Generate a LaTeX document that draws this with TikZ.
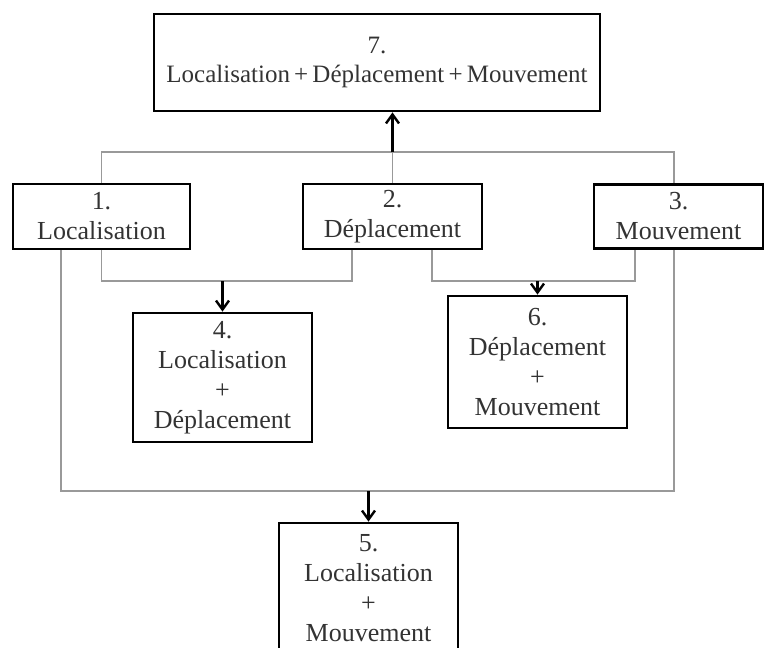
\documentclass[tikz,border=0pt]{standalone}
\usepackage{fontspec}
\setmainfont{Liberation Serif}
\usepackage{tikz}
\usetikzlibrary{arrows.meta,positioning,calc}

\begin{document}
\begin{tikzpicture}[x=0.5pt,y=-0.5pt,
    boite/.style={draw, line width=1.4pt, align=center, inner sep=0pt, text=black!80,
        font=\fontsize{13}{15}\selectfont, minimum width=89.5pt},
    lien/.style={draw=black!40, line width=0.9pt},
    fleche/.style={draw, line width=1.2pt, -{Straight Barb[length=4.5pt,width=6.5pt]}}]
    % Area of the picture
    \useasboundingbox (0,0) rectangle (767,648);
    \clip (0,0) rectangle (767,648);

    % Boxes
    \node[boite, minimum width=223pt, minimum height=48.5pt, font=\fontsize{12.5}{14.5}\selectfont] (b7) at (377,62.5)
        {7.\\Localisation\,+\,D\'eplacement\,+\,Mouvement};
    \node[boite, minimum width=88.5pt, minimum height=32.5pt] (b1) at (101.5,216.5) {1.\\Localisation};
    \node[boite, minimum height=32.5pt] (b2) at (392.5,216.5) {2.\\D\'eplacement};
    \node[boite, minimum width=84.5pt, minimum height=32pt] (b3) at (678.5,216.5) {3.\\Mouvement};
    \node[boite, minimum height=64.5pt] (b4) at (222.5,377.5) {4.\\Localisation\\+\\D\'eplacement};
    \node[boite, minimum height=66pt] (b6) at (537.5,362) {6.\\D\'eplacement\\+\\Mouvement};
    \node[boite, minimum height=65pt] (b5) at (368.5,588) {5.\\Localisation\\+\\Mouvement};

    % Corners of the connectors
    \coordinate (hd) at (674,152);
    \coordinate (m4) at (352,281);
    \coordinate (g6) at (432,281);
    \coordinate (d6) at (635,281);
    \coordinate (g5) at (61,491);

    % 1 + 2 + 3 -> 7
    \draw[lien] (b1.north) |- (hd) -- (hd |- b3.north);
    \draw[lien] (b2.north) -- (b2.north |- hd);
    \draw[fleche] (b2.north |- hd) -- (b2.north |- b7.south);

    % 1 + 2 -> 4
    \draw[lien] (b1.south) |- (m4) -- (m4 |- b2.south);
    \draw[fleche] (b4.north |- m4) -- (b4.north);

    % 2 + 3 -> 6
    \draw[lien] (g6 |- b2.south) -- (g6) -- (d6) -- (d6 |- b3.south);
    \draw[fleche] (b6.north |- d6) -- (b6.north);

    % 1 + 3 -> 5
    \draw[lien] (g5 |- b1.south) -- (g5) -| (hd |- b3.south);
    \draw[fleche] (b5.north |- g5) -- (b5.north);
\end{tikzpicture}
\end{document}
